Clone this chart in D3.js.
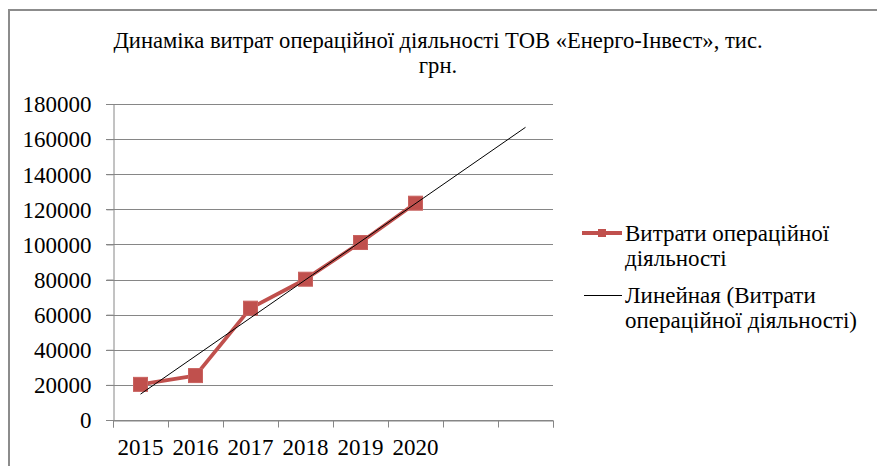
<!DOCTYPE html>
<html>
<head>
<meta charset="utf-8">
<script src="https://cdn.jsdelivr.net/npm/d3@7"></script>
<style>
  body { margin: 0; background: #fff; }
  svg { display: block; }
</style>
</head>
<body>
<svg id="chart" width="877" height="466"></svg>
<script>
// data
const years = ["2015", "2016", "2017", "2018", "2019", "2020"];
const costs = [20300, 25300, 63700, 80200, 101100, 123500];
const forecastPeriods = 2;
const yTicks = [0, 20000, 40000, 60000, 80000, 100000, 120000, 140000, 160000, 180000];
const titleLines = ["Динаміка витрат операційної діяльності ТОВ «Енерго-Інвест», тис.", "грн."];
const seriesName = ["Витрати операційної", "діяльності"];
const trendName = ["Линейная (Витрати", "операційної діяльності)"];

const red = "#C0504D";
const gridColor = "#868686";
const serif = "Liberation Serif";
const fontSize = "23px";

let chart = d3.select("#chart");

// frame of the chart area
chart.append("path")
  .attr("d", "M9,466 V10 H877")
  .attr("fill", "none")
  .attr("stroke", "#8c8c8c")
  .attr("stroke-width", 2);

// title
chart.append("g")
  .selectAll("text")
  .data(titleLines)
  .join("text")
    .attr("x", 438)
    .attr("y", (d, i) => 48 + i * 25)
    .attr("text-anchor", "middle")
    .style("font-family", serif)
    .style("font-size", "22.6px")
    .attr("fill", "#000")
    .text(d => d);

const plotLeft = 113, plotTop = 104, plotWidth = 440, plotHeight = 316;
const nCats = years.length + forecastPeriods;

// x: band boundaries 0..nCats, categories sit at i + 0.5
const x = d3.scaleLinear().domain([0, nCats]).range([plotLeft, plotLeft + plotWidth]);
const y = d3.scaleLinear().domain([0, 180000]).range([plotTop + plotHeight, plotTop]);

// grid
chart.append("g")
  .selectAll("line")
  .data(yTicks)
  .join("line")
    .attr("x1", plotLeft - 7)
    .attr("x2", plotLeft + plotWidth)
    .attr("y1", d => Math.round(y(d)) + 0.5)
    .attr("y2", d => Math.round(y(d)) + 0.5)
    .attr("stroke", gridColor)
    .attr("stroke-width", 1);

// y axis
const yAxis = chart.append("g")
  .attr("transform", `translate(${Math.round(plotLeft) + 0.5},0)`)
  .call(d3.axisLeft(y).tickValues(yTicks).tickSize(7).tickPadding(15).tickFormat(d3.format("d")));
yAxis.select(".domain").attr("stroke", gridColor);
yAxis.selectAll(".tick line").attr("stroke", gridColor);
yAxis.selectAll(".tick text")
  .style("font-family", serif)
  .style("font-size", fontSize)
  .attr("fill", "#000")
  .attr("dy", "0.34em");

// x axis: ticks between categories
const xAxis = chart.append("g")
  .attr("transform", `translate(0,${Math.round(y(0)) + 0.5})`)
  .call(d3.axisBottom(x).tickValues(d3.range(nCats + 1)).tickSize(7).tickFormat(""));
xAxis.select(".domain").attr("stroke", gridColor);
xAxis.selectAll(".tick line").attr("stroke", gridColor);

chart.append("g")
  .selectAll("text")
  .data(years)
  .join("text")
    .attr("x", (d, i) => x(i + 0.5))
    .attr("y", y(0) + 35)
    .attr("text-anchor", "middle")
    .style("font-family", serif)
    .style("font-size", fontSize)
    .attr("fill", "#000")
    .text(d => d);

// linear trend (least squares over the periods, extended forward)
const xs = costs.map((d, i) => i + 1);
const mx = d3.mean(xs), my = d3.mean(costs);
const slope = d3.sum(xs, (v, i) => (v - mx) * (costs[i] - my)) / d3.sum(xs, v => (v - mx) ** 2);
const intercept = my - slope * mx;
const trendPts = [1, nCats].map(t => [x(t - 0.5), y(intercept + slope * t)]);

// series line
chart.append("path")
  .datum(costs)
  .attr("fill", "none")
  .attr("stroke", red)
  .attr("stroke-width", 3.8)
  .attr("stroke-linejoin", "round")
  .attr("d", d3.line().x((d, i) => x(i + 0.5)).y(d => y(d)));

// markers
const ms = 14;
chart.append("g")
  .selectAll("rect")
  .data(costs)
  .join("rect")
    .attr("x", (d, i) => x(i + 0.5) - ms / 2)
    .attr("y", d => y(d) - ms / 2)
    .attr("width", ms)
    .attr("height", ms)
    .attr("fill", red)
    .attr("stroke", "#c9625f")
    .attr("stroke-width", 1);

// trend line on top
chart.append("path")
  .attr("d", d3.line()(trendPts))
  .attr("fill", "none")
  .attr("stroke", "#000")
  .attr("stroke-width", 1);

// legend
const legend = chart.append("g");
legend.append("line")
  .attr("x1", 582).attr("x2", 622).attr("y1", 233).attr("y2", 233)
  .attr("stroke", red).attr("stroke-width", 3.8);
legend.append("rect")
  .attr("x", 598).attr("y", 229).attr("width", 8).attr("height", 8)
  .attr("fill", red);
legend.append("line")
  .attr("x1", 584).attr("x2", 622).attr("y1", 295.5).attr("y2", 295.5)
  .attr("stroke", "#000").attr("stroke-width", 1);

legend.selectAll("text.s")
  .data(seriesName)
  .join("text")
    .attr("class", "s")
    .attr("x", 625)
    .attr("y", (d, i) => 241 + i * 25)
    .style("font-family", serif)
    .style("font-size", fontSize)
    .text(d => d);
legend.selectAll("text.t")
  .data(trendName)
  .join("text")
    .attr("class", "t")
    .attr("x", 625)
    .attr("y", (d, i) => 303 + i * 25)
    .style("font-family", serif)
    .style("font-size", fontSize)
    .text(d => d);
</script>
</body>
</html>
